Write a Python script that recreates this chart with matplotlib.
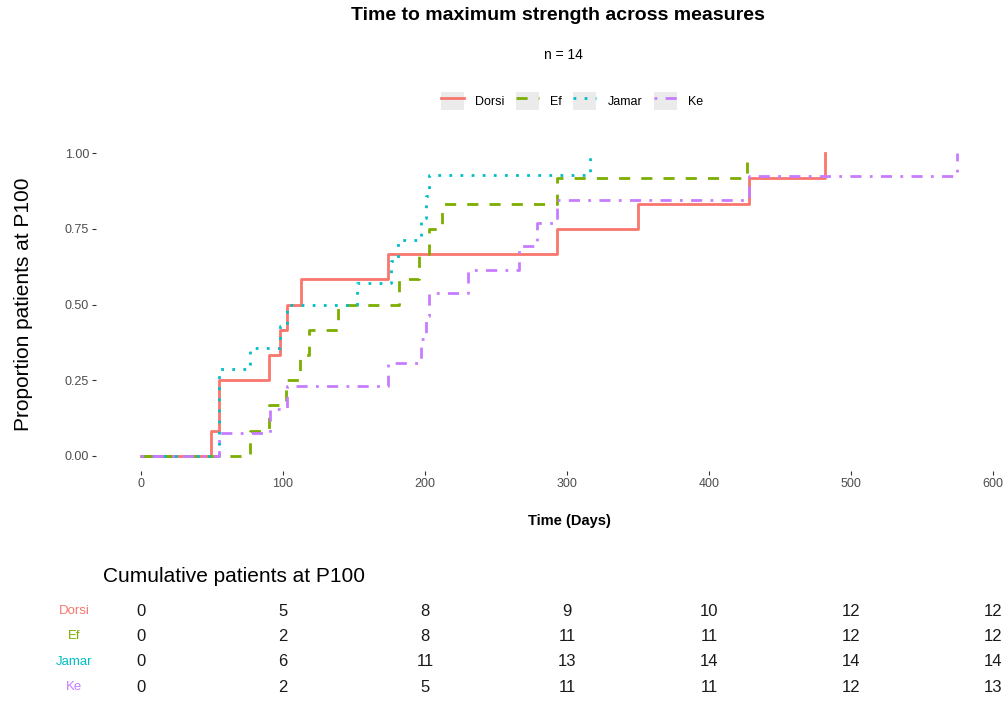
import numpy as np
import matplotlib.pyplot as plt
from matplotlib.lines import Line2D
from matplotlib.patches import Patch
from matplotlib.legend_handler import HandlerTuple
from matplotlib.transforms import blended_transform_factory

plt.rcParams['font.family'] = ['Liberation Sans', 'DejaVu Sans']

# Datos: dias de cada evento y conteo acumulado
measures = ['Dorsi', 'Ef', 'Jamar', 'Ke']
colores = ['#F8766D', '#7CAE00', '#00BFC4', '#C77CFF']
estilos = ['-', (0, (4, 4)), (0, (1, 3)), (0, (1, 3, 4, 3))]

dorsi_dias = [0, 49, 55, 90, 98, 103, 113, 174, 293, 350, 428, 482]
dorsi_n = [0, 1, 3, 4, 5, 6, 7, 8, 9, 10, 11, 12]
ef_dias = [0, 77, 90, 102, 112, 118, 139, 182, 196, 203, 212, 293, 427]
ef_n = [0, 1, 2, 3, 4, 5, 6, 7, 8, 9, 10, 11, 12]
jamar_dias = [0, 55, 77, 98, 103, 152, 176, 181, 197, 201, 203, 316]
jamar_n = [0, 4, 5, 6, 7, 8, 9, 10, 11, 12, 13, 14]
ke_dias = [0, 55, 91, 103, 174, 197, 201, 203, 230, 266, 279, 293, 428, 575]
ke_n = [0, 1, 2, 3, 4, 5, 6, 7, 8, 9, 10, 11, 12, 13]

dias_tabla = [0, 100, 200, 300, 400, 500, 600]
tabla_dorsi = [0, 5, 8, 9, 10, 12, 12]
tabla_ef = [0, 2, 8, 11, 11, 12, 12]
tabla_jamar = [0, 6, 11, 13, 14, 14, 14]
tabla_ke = [0, 2, 5, 11, 11, 12, 13]

series = [(dorsi_dias, dorsi_n), (ef_dias, ef_n), (jamar_dias, jamar_n), (ke_dias, ke_n)]
tabla = [tabla_dorsi, tabla_ef, tabla_jamar, tabla_ke]

fig = plt.figure(figsize=(10.06, 7.01), dpi=100)
ax = fig.add_axes([0.0954, 0.3281, 0.8966, 0.475])

for (d, n), c, ls in zip(series, colores, estilos):
    n = np.array(n)
    ax.step(d, n / n.max(), where='post', color=c, linestyle=ls, linewidth=2.0)

ax.set_xlim(-31.7, 603.5)
ax.set_ylim(-0.05, 1.05)
ax.set_xticks(dias_tabla)
ax.set_yticks([0, 0.25, 0.5, 0.75, 1.0])
ax.set_yticklabels(['0.00', '0.25', '0.50', '0.75', '1.00'])
for s in ax.spines.values():
    s.set_visible(False)
ax.tick_params(length=3, width=0.8, color='#333333', labelcolor='#4D4D4D',
               labelsize=9, pad=2)

ax.set_ylabel('Proportion patients at P100', fontsize=15)
ax.yaxis.set_label_coords(-0.070, 0.5)
ax.set_xlabel('Time (Days)', fontsize=10.5, fontweight='bold', va='center')
ax.xaxis.set_label_coords(0.5244, -0.150)

fig.text(558 / 1006, 1 - 16 / 701, 'Time to maximum strength across measures',
         ha='center', va='center', fontsize=14, fontweight='bold')
fig.text(563 / 1006, 1 - 55 / 701, 'n = 14', ha='center', va='center', fontsize=10)

handles = [(Patch(facecolor='#EBEBEB', edgecolor='none'),
            Line2D([], [], color=c, linestyle=ls, linewidth=2.0))
           for c, ls in zip(colores, estilos)]
fig.legend(handles, measures, loc='center', bbox_to_anchor=(572 / 1006, 1 - 101 / 701),
           ncol=4, frameon=False, fontsize=9, handlelength=1.85, handleheight=1.85,
           handletextpad=0.9, columnspacing=0.9,
           handler_map={tuple: HandlerTuple(ndivide=1)})

# tabla de acumulados
axt = fig.add_axes([0.0954, 0.0019, 0.8966, 0.1445])
axt.set_xlim(ax.get_xlim())
axt.set_ylim(3.5, -0.5)
axt.axis('off')
for i, (fila, c, nombre) in enumerate(zip(tabla, colores, measures)):
    axt.text(-47, i, nombre, color=c, ha='center', va='center', fontsize=9.5)
    for d, v in zip(dias_tabla, fila):
        axt.text(d, i, str(v), ha='center', va='center', fontsize=12, color='#1A1A1A')
tr = blended_transform_factory(axt.transAxes, axt.transData)
axt.text(0.008, -1.35, 'Cumulative patients at P100', transform=tr,
         ha='left', va='center', fontsize=15)

fig.savefig('out.png', dpi=100)
